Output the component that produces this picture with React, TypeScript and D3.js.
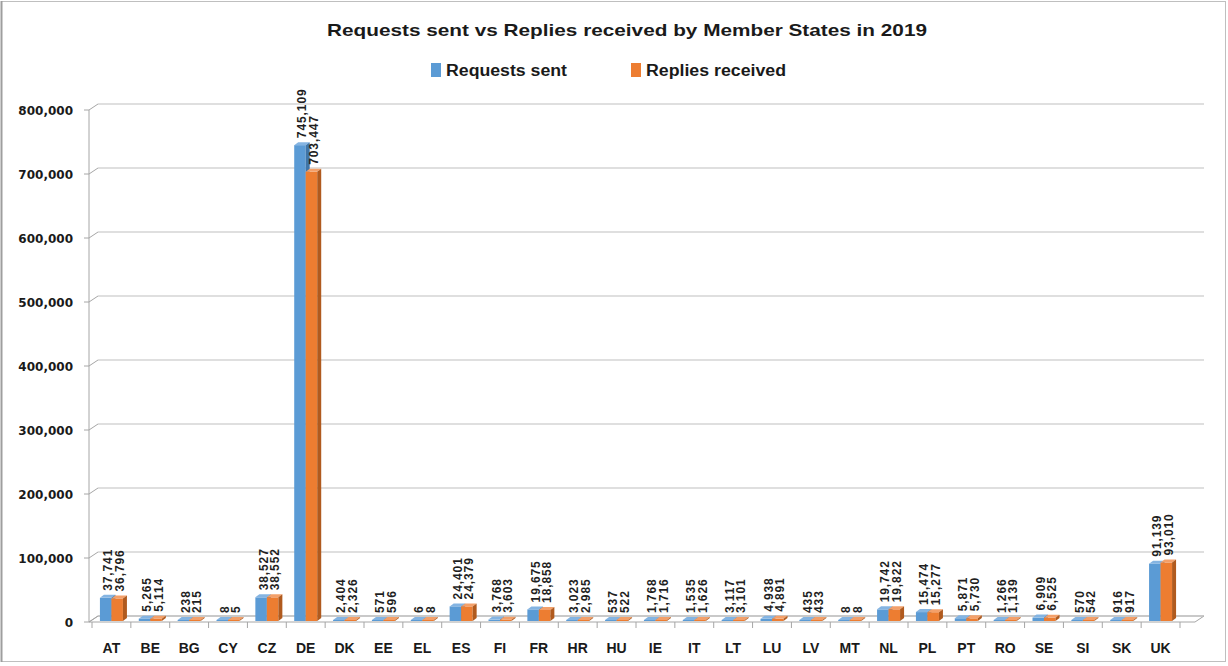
import React from "react";
import * as d3 from "d3";

const categories = ["AT","BE","BG","CY","CZ","DE","DK","EE","EL","ES","FI","FR","HR","HU","IE","IT","LT","LU","LV","MT","NL","PL","PT","RO","SE","SI","SK","UK"];
const requestsSent = [37741,5265,238,8,38527,745109,2404,571,6,24401,3768,19675,3023,537,1768,1535,3117,4938,435,8,19742,15474,5871,1266,6909,570,916,91139];
const repliesReceived = [36796,5114,215,5,38552,703447,2326,596,8,24379,3603,18858,2985,522,1716,1626,3101,4891,433,8,19822,15277,5730,1139,6525,542,917,93010];
const yTicks = [0,100000,200000,300000,400000,500000,600000,700000,800000];
const seriesNames = ["Requests sent","Replies received"];
const titleText = "Requests sent vs Replies received by Member States in 2019";

const W = 1228, H = 666;
const DX = 9, DY = 6; // wall depth
const BDX = 4, BDY = 3; // bar depth
const colors = [
  { front: "#5B9BD5", top: "#84B4E2", side: "#3F75A8" },
  { front: "#ED7D31", top: "#F3A06A", side: "#B05A1E" },
];

export default function App() {
  const y = d3.scaleLinear().domain([0, 800000]).range([622, 110]);
  const x = d3.scaleBand<string>().domain(categories).range([92, 1180]);
  const bw = 11.5;
  const fmt = d3.format(",");
  const y0 = y(0);
  const left = 89, rightFront = 1195;
  const series = [requestsSent, repliesReceived];

  return (
    <svg width={W} height={H} style={{ position: "absolute", left: 0, top: 0, background: "#fff" }}>
      <rect x={1.5} y={1.5} width={W - 4} height={H - 6} fill="#fff" stroke="#BFBFBF" strokeWidth={1} />
      <line x1={1.5} y1={1} x2={1.5} y2={H - 4} stroke="#9E9E9E" strokeWidth={2} />
      {/* title */}
      <text x={627} y={36} textAnchor="middle" fontFamily="Liberation Sans, Arial, sans-serif" fontWeight="bold" fontSize={17} fill="#1a1a1a" textLength={600} lengthAdjust="spacingAndGlyphs">{titleText}</text>
      {/* legend */}
      {seriesNames.map((n, i) => {
        const lx = i === 0 ? 431 : 631;
        return (
          <g key={n}>
            <rect x={lx} y={63} width={10} height={14} fill={colors[i].front} />
            <text x={lx + 15} y={76} fontFamily="Liberation Sans, Arial, sans-serif" fontWeight="bold" fontSize={16} fill="#1a1a1a" textLength={i === 0 ? 121 : 140} lengthAdjust="spacingAndGlyphs">{n}</text>
          </g>
        );
      })}
      {/* floor */}
      <polygon points={`${left},${y0} ${rightFront},${y0} ${rightFront + DX},${y0 - DY} ${left + DX},${y0 - DY}`} fill="#fff" stroke="#A6A6A6" strokeWidth={1} />
      {/* gridlines on back wall + side wall diagonals */}
      {yTicks.map((t) => (
        <g key={t}>
          <line x1={left + DX} x2={rightFront + DX} y1={y(t) - DY} y2={y(t) - DY} stroke="#BFBFBF" strokeWidth={1.2} />
          <line x1={left} x2={left + DX} y1={y(t)} y2={y(t) - DY} stroke="#A6A6A6" strokeWidth={1} />
          <line x1={left - 5} x2={left} y1={y(t)} y2={y(t)} stroke="#A6A6A6" strokeWidth={1} />
          <text x={73} y={y(t) + 5} textAnchor="end" fontFamily="DejaVu Sans, Verdana, sans-serif" fontWeight="bold" fontSize={12} fill="#1a1a1a">{fmt(t)}</text>
        </g>
      ))}
      {/* y axis line */}
      <line x1={left} x2={left} y1={y(800000)} y2={y0} stroke="#A6A6A6" strokeWidth={1} />
      {/* x ticks */}
      {categories.map((c) => (
        <line key={"t" + c} x1={(x(c) as number)} x2={(x(c) as number)} y1={y0} y2={y0 + 6} stroke="#A6A6A6" strokeWidth={1} />
      ))}
      <line x1={1180} x2={1180} y1={y0} y2={y0 + 6} stroke="#A6A6A6" strokeWidth={1} />
      {/* bars */}
      {categories.map((c, i) => {
        const cx = (x(c) as number) + x.bandwidth() / 2;
        return (
          <g key={c}>
            {series.map((s, k) => {
              const bx = cx - bw + k * bw;
              const yb = y0 - 1;
              const yt = Math.min(y(s[i]), yb - 1);
              const col = colors[k];
              return (
                <g key={k}>
                  <rect x={bx} y={yt} width={bw} height={yb - yt} fill={col.front} />
                  <polygon points={`${bx},${yt} ${bx + BDX},${yt - BDY} ${bx + bw + BDX},${yt - BDY} ${bx + bw},${yt}`} fill={col.top} />
                  <polygon points={`${bx + bw},${yt} ${bx + bw + BDX},${yt - BDY} ${bx + bw + BDX},${yb - BDY} ${bx + bw},${yb}`} fill={col.side} />
                </g>
              );
            })}
            {series.map((s, k) => {
              const bcx = cx - bw + k * bw + bw / 2 + BDX / 2;
              const yt = Math.min(y(s[i]), y0 - 2) - BDY - 4;
              return (
                <text key={"l" + k} transform={`translate(${bcx + 4.5},${yt}) rotate(-90)`} fontFamily="Liberation Sans, Arial, sans-serif" fontWeight="bold" fontSize={12} letterSpacing={0.9} fill="#1f1f1f">{fmt(s[i])}</text>
              );
            })}
            <text x={cx} y={653} textAnchor="middle" fontFamily="Liberation Sans, Arial, sans-serif" fontWeight="bold" fontSize={14} fill="#1a1a1a">{c}</text>
          </g>
        );
      })}
    </svg>
  );
}
